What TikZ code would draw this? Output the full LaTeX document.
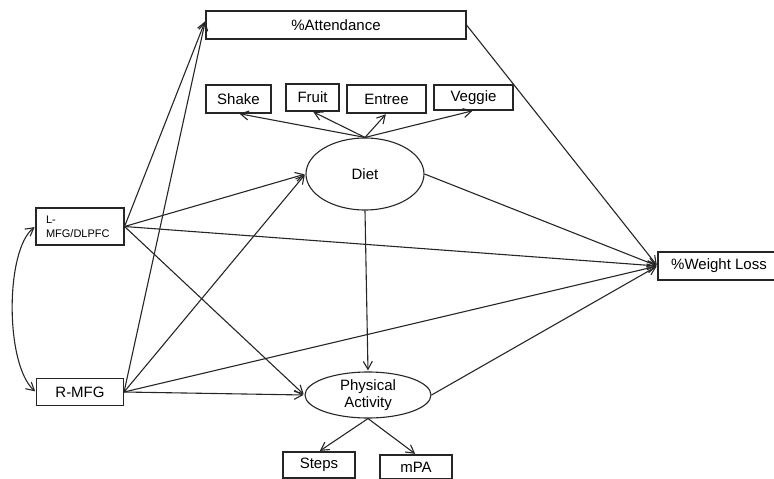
\documentclass[tikz,border=0pt]{standalone}
\usepackage{fontspec}
\setmainfont{Liberation Sans}
\usetikzlibrary{
        arrows.meta,
        positioning,
        shapes.geometric
    }
\tikzset{>={Straight Barb[length=8pt,width=9pt]},shorten >=1pt,auto,node distance=2cm}
\tikzset{
    box/.style={draw=black!85,rectangle,inner sep=0pt,font=\fontsize{15}{17.5}\selectfont},
    latent/.style={draw=black!85,ellipse,inner sep=0pt,align=center,font=\fontsize{15}{17.5}\selectfont}
}

\begin{document}
\begin{tikzpicture}[x=1pt,y=-1pt,line width=1.1pt,draw=black!85]
            \useasboundingbox (0,0) rectangle (774,479);
            % outcomes and mediators
            \node[box,minimum width=260pt,minimum height=28pt] (att) at (336,25) {\%Attendance};
            \node[box,minimum width=65pt,minimum height=28pt] (shake) at (238.5,99) {Shake};
            \node[box,minimum width=53pt,minimum height=27pt] (fruit) at (312.5,97.5) {Fruit};
            \node[box,minimum width=79pt,minimum height=28pt] (entree) at (386.5,99) {Entree};
            \node[box,minimum width=79pt,minimum height=25pt] (veggie) at (473.5,97.5) {Veggie};
            \node[latent,minimum width=118pt,minimum height=72pt] (diet) at (365,174) {Diet};
            \node[latent,minimum width=126pt,minimum height=46pt] (pa) at (368,395) {Physical\\Activity};
            \node[box,minimum width=72pt,minimum height=26pt] (steps) at (319,465) {Steps};
            \node[box,minimum width=72pt,minimum height=24pt] (mpa) at (416,467) {mPA};
            \node[box,minimum width=122pt,minimum height=28pt] (wl) at (719,266) {\%Weight Loss};
            % predictors
            \node[box,text width=68pt,align=left,inner xsep=10pt,minimum height=37pt,
                  font=\fontsize{11}{14}\selectfont] (lmfg) at (80,226.5) {L-\\MFG/DLPFC};
            \node[box,minimum width=87pt,minimum height=27pt] (rmfg) at (80,392) {R-MFG};
            \path[->]
                (lmfg.east)  edge  (att.178)
                (rmfg.east)  edge  (att.178)
                (lmfg.east)  edge  (diet.west)
                (rmfg.east)  edge  (diet.west)
                (lmfg.east)  edge  (wl.west)
                (rmfg.east)  edge  (wl.west)
                (lmfg.east)  edge  (pa.west)
                (rmfg.east)  edge  (pa.west)
                (att.east)   edge  (wl.west)
                (diet.east)  edge  (wl.west)
                (pa.east)    edge  (wl.west)
                (diet.south) edge  (pa.north)
                (diet.north) edge  (shake.south)
                (diet.north) edge  (fruit.south)
                (diet.north) edge  (entree.south)
                (diet.north) edge  (veggie.south)
                (pa.south)   edge  (steps.north)
                (pa.south)   edge  (mpa.north);
            \draw[<->,shorten <=1pt] (lmfg.west) .. controls (5,250) and (5,365) .. (rmfg.west);
        \end{tikzpicture}
\end{document}
